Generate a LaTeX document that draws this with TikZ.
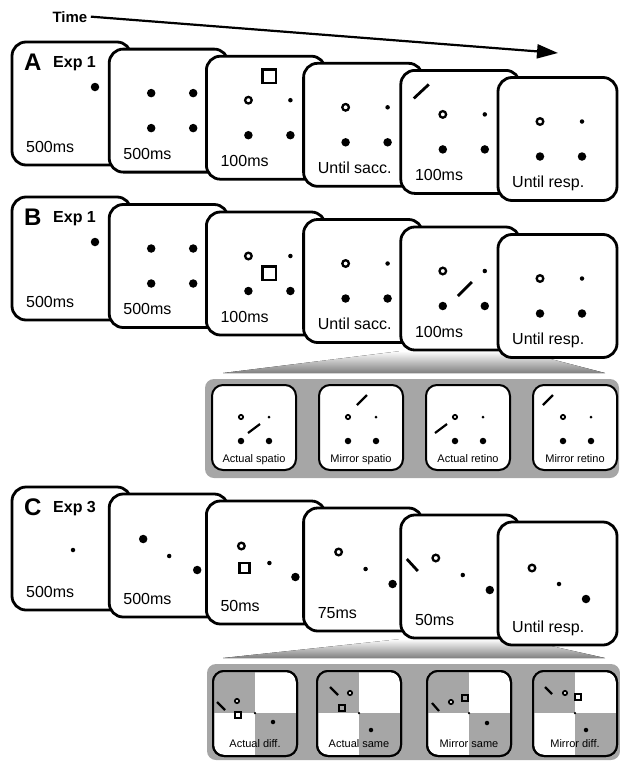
\documentclass[tikz,border=0pt]{standalone}
\usepackage{fontspec}
\setmainfont{Liberation Sans}
\usetikzlibrary{arrows.meta,calc}
\tikzset{
 panelbox/.style={draw, line width=2.8pt, fill=white, rounded corners=14pt, minimum width=119pt, minimum height=123pt, anchor=north west, inner sep=0pt, outer sep=0pt},
 minibox/.style={draw, line width=2pt, fill=white, rounded corners=11pt, minimum width=84pt, minimum height=85pt, anchor=north west, inner sep=0pt, outer sep=0pt},
 insetbox/.style={fill=black!35, rounded corners=9pt, anchor=north west, inner sep=0pt, outer sep=0pt},
 bigd/.style={circle, fill=black, inner sep=0pt, minimum size=8.5pt},
 ringd/.style={circle, draw=black, fill=white, line width=2.3pt, inner sep=0pt, minimum size=6.6pt},
 fixd/.style={circle, fill=black, inner sep=0pt, minimum size=4.5pt},
 sqd/.style={draw=black, line width=2.5pt, inner sep=0pt, minimum size=13.5pt},
 csqd/.style={draw=black, line width=2.3pt, inner sep=0pt, minimum size=10pt},
 stim/.style={line width=2.8pt},
 lbl/.style={anchor=base west, font=\fontsize{16}{18}\selectfont, inner sep=0pt},
 ttl/.style={anchor=base west, font=\bfseries\fontsize{24}{26}\selectfont, inner sep=0pt},
 expl/.style={anchor=base west, font=\bfseries\fontsize{16}{18}\selectfont, inner sep=0pt},
 mbigd/.style={circle, fill=black, inner sep=0pt, minimum size=6.5pt},
 mringd/.style={circle, draw=black, fill=white, line width=1.8pt, inner sep=0pt, minimum size=4.2pt},
 mfixd/.style={circle, fill=black, inner sep=0pt, minimum size=3pt},
 msqd/.style={draw=black, line width=1.7pt, inner sep=0pt, minimum size=6.5pt},
 mstim/.style={line width=2.2pt},
 mlbl/.style={anchor=base, font=\fontsize{11}{13}\selectfont, inner sep=0pt},
 quad/.style={fill=black!35},
 wedge/.style={top color=white, bottom color=black!50},
}
\newcommand\mpanel[4]{%
  \node[panelbox] (#1) at (#2,#3) {};
  \node[lbl] (#1-l) at ($(#1.north west)+(14,110)$) {#4};
}
\newcommand\mminiB[3]{%
  \node[minibox] (#1) at (#2,385) {};
  \node[mlbl] (#1-l) at ($(#1.north west)+(42,77)$) {#3};
}
\begin{document}
\begin{tikzpicture}[x=1pt,y=-1pt]
\useasboundingbox (0,0) rectangle (620,761);

% Time arrow
\node[anchor=base west, font=\bfseries\fontsize{15}{17}\selectfont] (time) at (49,22) {Time};
\coordinate (tend) at (558,53);
\draw[line width=2.2pt, -{Triangle[length=21pt,width=14pt]}] (time.east) -- (tend);

% ---------------- Row A ----------------
\mpanel{a1}{12}{42}{500ms}
\begin{scope}[shift={(a1.north west)}]
 \node[ttl] (a1-t) at (12,28) {A};
 \node[expl] (a1-e) at (41,25) {Exp 1};
 \node[bigd] (a1-d) at (83,45) {};
\end{scope}
\mpanel{a2}{109.2}{49.1}{500ms}
\begin{scope}[shift={(a2.north west)}]
 \node[bigd] (a2-d1) at (42,44) {}; \node[bigd] (a2-d2) at (84,44) {};
 \node[bigd] (a2-d3) at (42,79) {}; \node[bigd] (a2-d4) at (84,79) {};
\end{scope}
\mpanel{a3}{206.4}{56.2}{100ms}
\begin{scope}[shift={(a3.north west)}]
 \node[sqd] (a3-s) at (63,20) {};
 \node[ringd] (a3-r) at (42,44) {}; \node[fixd] (a3-f) at (84,44) {};
 \node[bigd] (a3-d1) at (42,79) {}; \node[bigd] (a3-d2) at (84,79) {};
\end{scope}
\mpanel{a4}{303.6}{63.3}{Until sacc.}
\begin{scope}[shift={(a4.north west)}]
 \node[ringd] (a4-r) at (42,44) {}; \node[fixd] (a4-f) at (84,44) {};
 \node[bigd] (a4-d1) at (42,79) {}; \node[bigd] (a4-d2) at (84,79) {};
\end{scope}
\mpanel{a5}{400.8}{70.4}{100ms}
\begin{scope}[shift={(a5.north west)}]
 \draw[stim] (13,28) -- (28,14);
 \node[ringd] (a5-r) at (42,44) {}; \node[fixd] (a5-f) at (84,44) {};
 \node[bigd] (a5-d1) at (42,79) {}; \node[bigd] (a5-d2) at (84,79) {};
\end{scope}
\mpanel{a6}{498}{77.5}{Until resp.}
\begin{scope}[shift={(a6.north west)}]
 \node[ringd] (a6-r) at (42,44) {}; \node[fixd] (a6-f) at (84,44) {};
 \node[bigd] (a6-d1) at (42,79) {}; \node[bigd] (a6-d2) at (84,79) {};
\end{scope}

% ---------------- Row B ----------------
\fill[wedge] (400.8,351) -- (519.8,351) -- (605,373) -- (223,373) -- cycle;
\mpanel{b1}{12}{197}{500ms}
\begin{scope}[shift={(b1.north west)}]
 \node[ttl] (b1-t) at (12,28) {B};
 \node[expl] (b1-e) at (41,25) {Exp 1};
 \node[bigd] (b1-d) at (83,45) {};
\end{scope}
\mpanel{b2}{109.2}{204.5}{500ms}
\begin{scope}[shift={(b2.north west)}]
 \node[bigd] (b2-d1) at (42,44) {}; \node[bigd] (b2-d2) at (84,44) {};
 \node[bigd] (b2-d3) at (42,79) {}; \node[bigd] (b2-d4) at (84,79) {};
\end{scope}
\mpanel{b3}{206.4}{212}{100ms}
\begin{scope}[shift={(b3.north west)}]
 \node[ringd] (b3-r) at (42,44) {}; \node[fixd] (b3-f) at (84,44) {};
 \node[sqd] (b3-s) at (63,61) {};
 \node[bigd] (b3-d1) at (42,79) {}; \node[bigd] (b3-d2) at (84,79) {};
\end{scope}
\mpanel{b4}{303.6}{219.5}{Until sacc.}
\begin{scope}[shift={(b4.north west)}]
 \node[ringd] (b4-r) at (42,44) {}; \node[fixd] (b4-f) at (84,44) {};
 \node[bigd] (b4-d1) at (42,79) {}; \node[bigd] (b4-d2) at (84,79) {};
\end{scope}
\mpanel{b5}{400.8}{227}{100ms}
\begin{scope}[shift={(b5.north west)}]
 \node[ringd] (b5-r) at (42,44) {}; \node[fixd] (b5-f) at (84,44) {};
 \draw[stim] (57,69) -- (71,55);
 \node[bigd] (b5-d1) at (42,79) {}; \node[bigd] (b5-d2) at (84,79) {};
\end{scope}
\mpanel{b6}{498}{234.5}{Until resp.}
\begin{scope}[shift={(b6.north west)}]
 \node[ringd] (b6-r) at (42,44) {}; \node[fixd] (b6-f) at (84,44) {};
 \node[bigd] (b6-d1) at (42,79) {}; \node[bigd] (b6-d2) at (84,79) {};
\end{scope}

% inset B
\node[insetbox, minimum width=414pt, minimum height=99pt] (binset) at (205,379) {};
\mminiB{bm1}{212}{Actual spatio}
\begin{scope}[shift={(bm1.north west)}]
 \node[mringd] (bm1-r) at (29,32) {}; \node[mfixd] (bm1-f) at (57,32) {};
 \node[mbigd] (bm1-d1) at (29,56) {}; \node[mbigd] (bm1-d2) at (57,56) {};
 \draw[mstim] (36,48) -- (48,39);
\end{scope}
\mminiB{bm2}{319}{Mirror spatio}
\begin{scope}[shift={(bm2.north west)}]
 \node[mringd] (bm2-r) at (29,32) {}; \node[mfixd] (bm2-f) at (57,32) {};
 \node[mbigd] (bm2-d1) at (29,56) {}; \node[mbigd] (bm2-d2) at (57,56) {};
 \draw[mstim] (38,20) -- (48,10);
\end{scope}
\mminiB{bm3}{426}{Actual retino}
\begin{scope}[shift={(bm3.north west)}]
 \node[mringd] (bm3-r) at (29,32) {}; \node[mfixd] (bm3-f) at (57,32) {};
 \node[mbigd] (bm3-d1) at (29,56) {}; \node[mbigd] (bm3-d2) at (57,56) {};
 \draw[mstim] (9,48) -- (21,39);
\end{scope}
\mminiB{bm4}{533}{Mirror retino}
\begin{scope}[shift={(bm4.north west)}]
 \node[mringd] (bm4-r) at (30,32) {}; \node[mfixd] (bm4-f) at (58,32) {};
 \node[mbigd] (bm4-d1) at (30,56) {}; \node[mbigd] (bm4-d2) at (58,56) {};
 \draw[mstim] (10,20) -- (20,10);
\end{scope}

% ---------------- Row C ----------------
\fill[wedge] (400.8,639) -- (519.8,639) -- (605,658) -- (223,658) -- cycle;
\mpanel{c1}{12}{487}{500ms}
\begin{scope}[shift={(c1.north west)}]
 \node[ttl] (c1-t) at (12,28) {C};
 \node[expl] (c1-e) at (41,25) {Exp 3};
 \node[fixd] (c1-f) at (61,63) {};
\end{scope}
\mpanel{c2}{109.2}{494}{500ms}
\begin{scope}[shift={(c2.north west)}]
 \node[bigd] (c2-d1) at (34,45) {}; \node[fixd] (c2-f) at (60,62) {};
 \node[bigd] (c2-d2) at (88,76) {};
\end{scope}
\mpanel{c3}{206.4}{501}{50ms}
\begin{scope}[shift={(c3.north west)}]
 \node[ringd] (c3-r) at (35,45) {}; \node[fixd] (c3-f) at (63,62) {};
 \node[csqd] (c3-s) at (38,67) {};
 \node[bigd] (c3-d) at (89,76) {};
\end{scope}
\mpanel{c4}{303.6}{508}{75ms}
\begin{scope}[shift={(c4.north west)}]
 \node[ringd] (c4-r) at (35,44) {}; \node[fixd] (c4-f) at (62,61) {};
 \node[bigd] (c4-d) at (89,76) {};
\end{scope}
\mpanel{c5}{400.8}{515}{50ms}
\begin{scope}[shift={(c5.north west)}]
 \draw[stim] (6,44) -- (17,56);
 \node[ringd] (c5-r) at (35,43) {}; \node[fixd] (c5-f) at (62,60) {};
 \node[bigd] (c5-d) at (89,75) {};
\end{scope}
\mpanel{c6}{498}{522}{Until resp.}
\begin{scope}[shift={(c6.north west)}]
 \node[ringd] (c6-r) at (34,46) {}; \node[fixd] (c6-f) at (61,62) {};
 \node[bigd] (c6-d) at (88,77) {};
\end{scope}

% inset C
\node[insetbox, minimum width=413pt, minimum height=96pt] (cinset) at (207,664) {};
\foreach \nm/\lx/\tx in {cm1/213/Actual diff., cm2/317/Actual same, cm3/427/Mirror same, cm4/533/Mirror diff.}{
 \node[minibox] (\nm) at (\lx,671) {};
 \begin{scope}[shift={(\nm.north west)}]
  \begin{scope}
   \clip[rounded corners=11pt] (0,0) rectangle (84,85);
   \fill[quad] (0,0) rectangle (42,42);
   \fill[quad] (42,42) rectangle (84,85);
  \end{scope}
  \draw[line width=2pt, rounded corners=11pt] (0,0) rectangle (84,85);
  \node[mfixd, minimum size=2.5pt] (\nm-f) at (42,42) {};
 \end{scope}
 \node[mlbl] (\nm-l) at ($(\nm.north west)+(42,76)$) {\tx};
}
\begin{scope}[shift={(cm1.north west)}]
 \draw[mstim] (4,31) -- (12,39);
 \node[mringd] (cm1-r) at (24,30) {};
 \node[msqd] (cm1-s) at (25,44) {};
 \node[mbigd, minimum size=4.5pt] (cm1-d) at (60,51) {};
\end{scope}
\begin{scope}[shift={(cm2.north west)}]
 \draw[mstim] (13,16) -- (21,24);
 \node[mringd] (cm2-r) at (33,22) {};
 \node[msqd] (cm2-s) at (25,37) {};
 \node[mbigd, minimum size=4.5pt] (cm2-d) at (54,59) {};
\end{scope}
\begin{scope}[shift={(cm3.north west)}]
 \draw[mstim] (5,32) -- (12,40);
 \node[mringd] (cm3-r) at (24,31) {};
 \node[msqd] (cm3-s) at (38,27) {};
 \node[mbigd, minimum size=4.5pt] (cm3-d) at (60,52) {};
\end{scope}
\begin{scope}[shift={(cm4.north west)}]
 \draw[mstim] (12,16) -- (19,23);
 \node[mringd] (cm4-r) at (32,22) {};
 \node[msqd] (cm4-s) at (45,26) {};
 \node[mbigd, minimum size=4.5pt] (cm4-d) at (53,59) {};
\end{scope}
\end{tikzpicture}
\end{document}
